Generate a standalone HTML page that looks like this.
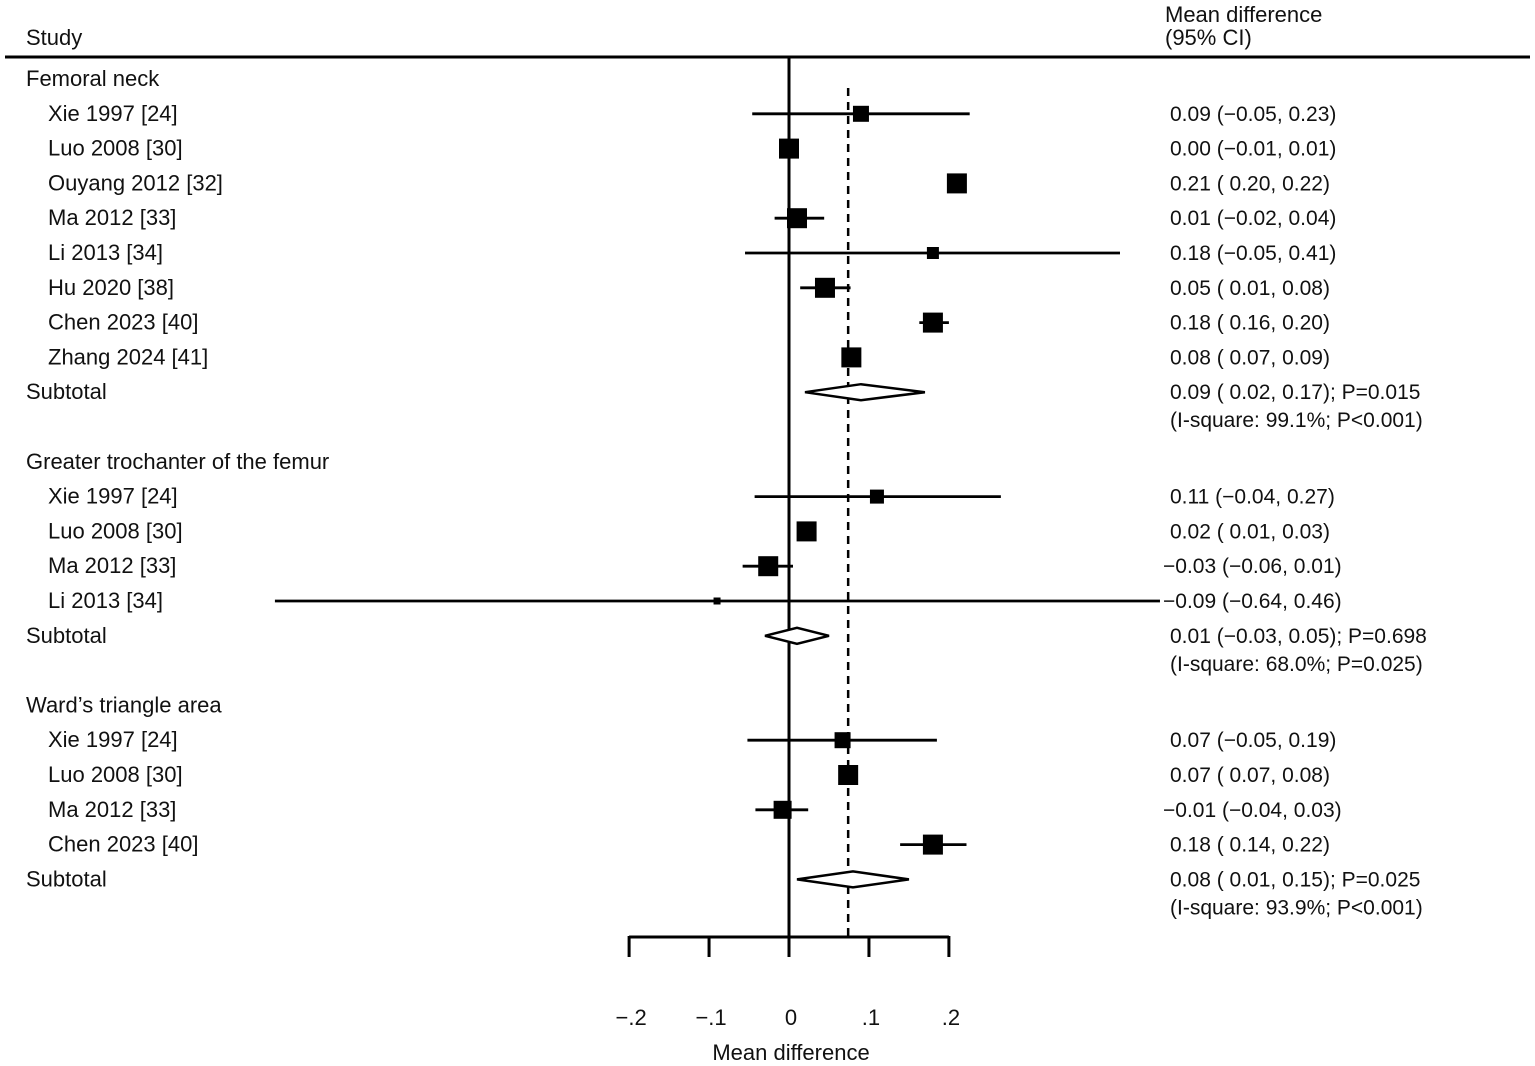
<!DOCTYPE html>
<html><head><meta charset="utf-8"><style>
html,body{margin:0;padding:0;background:#fff;}
svg{display:block;font-family:"Liberation Sans",sans-serif;}
text{font-size:22px;fill:#111;}
text.r{font-size:21px;}
</style></head><body>
<svg id="c" width="1535" height="1066">
<text x="26" y="45">Study</text>
<text x="1165" y="22">Mean difference</text>
<text x="1165" y="45">(95% CI)</text>
<line x1="5" y1="57" x2="1530" y2="57" stroke="#000" stroke-width="3"/>
<text x="791" y="1060" text-anchor="middle">Mean difference</text>
</svg>
<script>
const rowLabels=["Xie 1997 [24]","Luo 2008 [30]","Ouyang 2012 [32]","Ma 2012 [33]","Li 2013 [34]","Hu 2020 [38]","Chen 2023 [40]","Zhang 2024 [41]","Xie 1997 [24]","Luo 2008 [30]","Ma 2012 [33]","Li 2013 [34]","Xie 1997 [24]","Luo 2008 [30]","Ma 2012 [33]","Chen 2023 [40]"];
const rowIdx=[1,2,3,4,5,6,7,8,12,13,14,15,19,20,21,22];
const est=[0.09,0.00,0.21,0.01,0.18,0.045,0.18,0.078,0.11,0.022,-0.026,-0.09,0.067,0.074,-0.008,0.18];
const lo=[-0.046,-0.01,0.20,-0.018,-0.055,0.014,0.163,0.07,-0.043,0.01,-0.058,-0.643,-0.052,0.07,-0.042,0.139];
const hi=[0.226,0.01,0.22,0.044,0.414,0.077,0.2,0.09,0.265,0.03,0.005,0.464,0.185,0.08,0.024,0.222];
const boxSize=[16,20,20,20,12,20,20,20,14,20,20,7,16,20,18,20];
const ciText=["0.09 (−0.05, 0.23)","0.00 (−0.01, 0.01)","0.21 ( 0.20, 0.22)","0.01 (−0.02, 0.04)","0.18 (−0.05, 0.41)","0.05 ( 0.01, 0.08)","0.18 ( 0.16, 0.20)","0.08 ( 0.07, 0.09)","0.11 (−0.04, 0.27)","0.02 ( 0.01, 0.03)","−0.03 (−0.06, 0.01)","−0.09 (−0.64, 0.46)","0.07 (−0.05, 0.19)","0.07 ( 0.07, 0.08)","−0.01 (−0.04, 0.03)","0.18 ( 0.14, 0.22)"];
const groupNames=["Femoral neck","Greater trochanter of the femur","Ward’s triangle area"];
const groupRow=[0,11,18];
const subRow=[9,16,23];
const subEst=[0.09,0.01,0.08];
const subLo=[0.02,-0.03,0.01];
const subHi=[0.17,0.05,0.15];
const subText=["0.09 ( 0.02, 0.17); P=0.015","0.01 (−0.03, 0.05); P=0.698","0.08 ( 0.01, 0.15); P=0.025"];
const hetText=["(I-square: 99.1%; P<0.001)","(I-square: 68.0%; P=0.025)","(I-square: 93.9%; P<0.001)"];
const overall=0.074;
const ticks=[-0.2,-0.1,0,0.1,0.2];
const tickLabels=["−.2","−.1","0",".1",".2"];

const svg=document.getElementById('c');const NS="http://www.w3.org/2000/svg";
const X=v=>789+v*799.5;
const Y=r=>79+r*34.8;
function mk(t,a){const e=document.createElementNS(NS,t);for(const k in a)e.setAttribute(k,a[k]);svg.appendChild(e);return e;}
function txt(x,y,s,cls){const e=mk('text',{x:x,y:y+7});if(cls)e.setAttribute('class',cls);e.textContent=s;return e;}
let e;
e=mk('line',{x1:X(0),y1:58,x2:X(0),y2:937,stroke:'#000','stroke-width':3});


e=mk('line',{x1:X(overall),y1:88,x2:X(overall),y2:937,stroke:'#000','stroke-width':2.5,'stroke-dasharray':'8,6'});


e=mk('line',{x1:X(ticks[0]),y1:937,x2:X(ticks[ticks.length-1]),y2:937,stroke:'#000','stroke-width':3});


ticks.forEach((t,i)=>{
 e=mk('line',{x1:X(t),y1:936,x2:X(t),y2:957,stroke:'#000','stroke-width':3});
 
 
 e=mk('text',{x:X(t)+2,y:1025,'text-anchor':'middle'});e.textContent=tickLabels[i];
 
 
});
groupNames.forEach((g,i)=>{
 e=txt(26,Y(groupRow[i]),g);
 
 
 const y=Y(subRow[i]);
 e=txt(26,y,'Subtotal');
 
 
 const xl=X(subLo[i]),xr=X(subHi[i]),xc=X(subEst[i]);
 e=mk('polygon',{points:`${xl},${y} ${xc},${y-8} ${xr},${y} ${xc},${y+8}`,fill:'#fff',stroke:'#000','stroke-width':2.5});
 
 
 e=txt(subText[i][0]=='−'?1163:1170,y,subText[i],'r');
 
 
 e=txt(1170,y+28,hetText[i],'r');
 
 
});
rowLabels.forEach((l,i)=>{
 const y=Y(rowIdx[i]);
 e=txt(48,y,l);
 
 
 e=mk('line',{x1:X(lo[i]),y1:y,x2:X(hi[i]),y2:y,stroke:'#000','stroke-width':2.8});
 
 
 const s=boxSize[i];
 e=mk('rect',{x:X(est[i])-s/2,y:y-s/2,width:s,height:s,fill:'#000'});
 
 
 e=txt(ciText[i][0]=='−'?1163:1170,y,ciText[i],'r');
 
 
});
</script>
</body></html>
